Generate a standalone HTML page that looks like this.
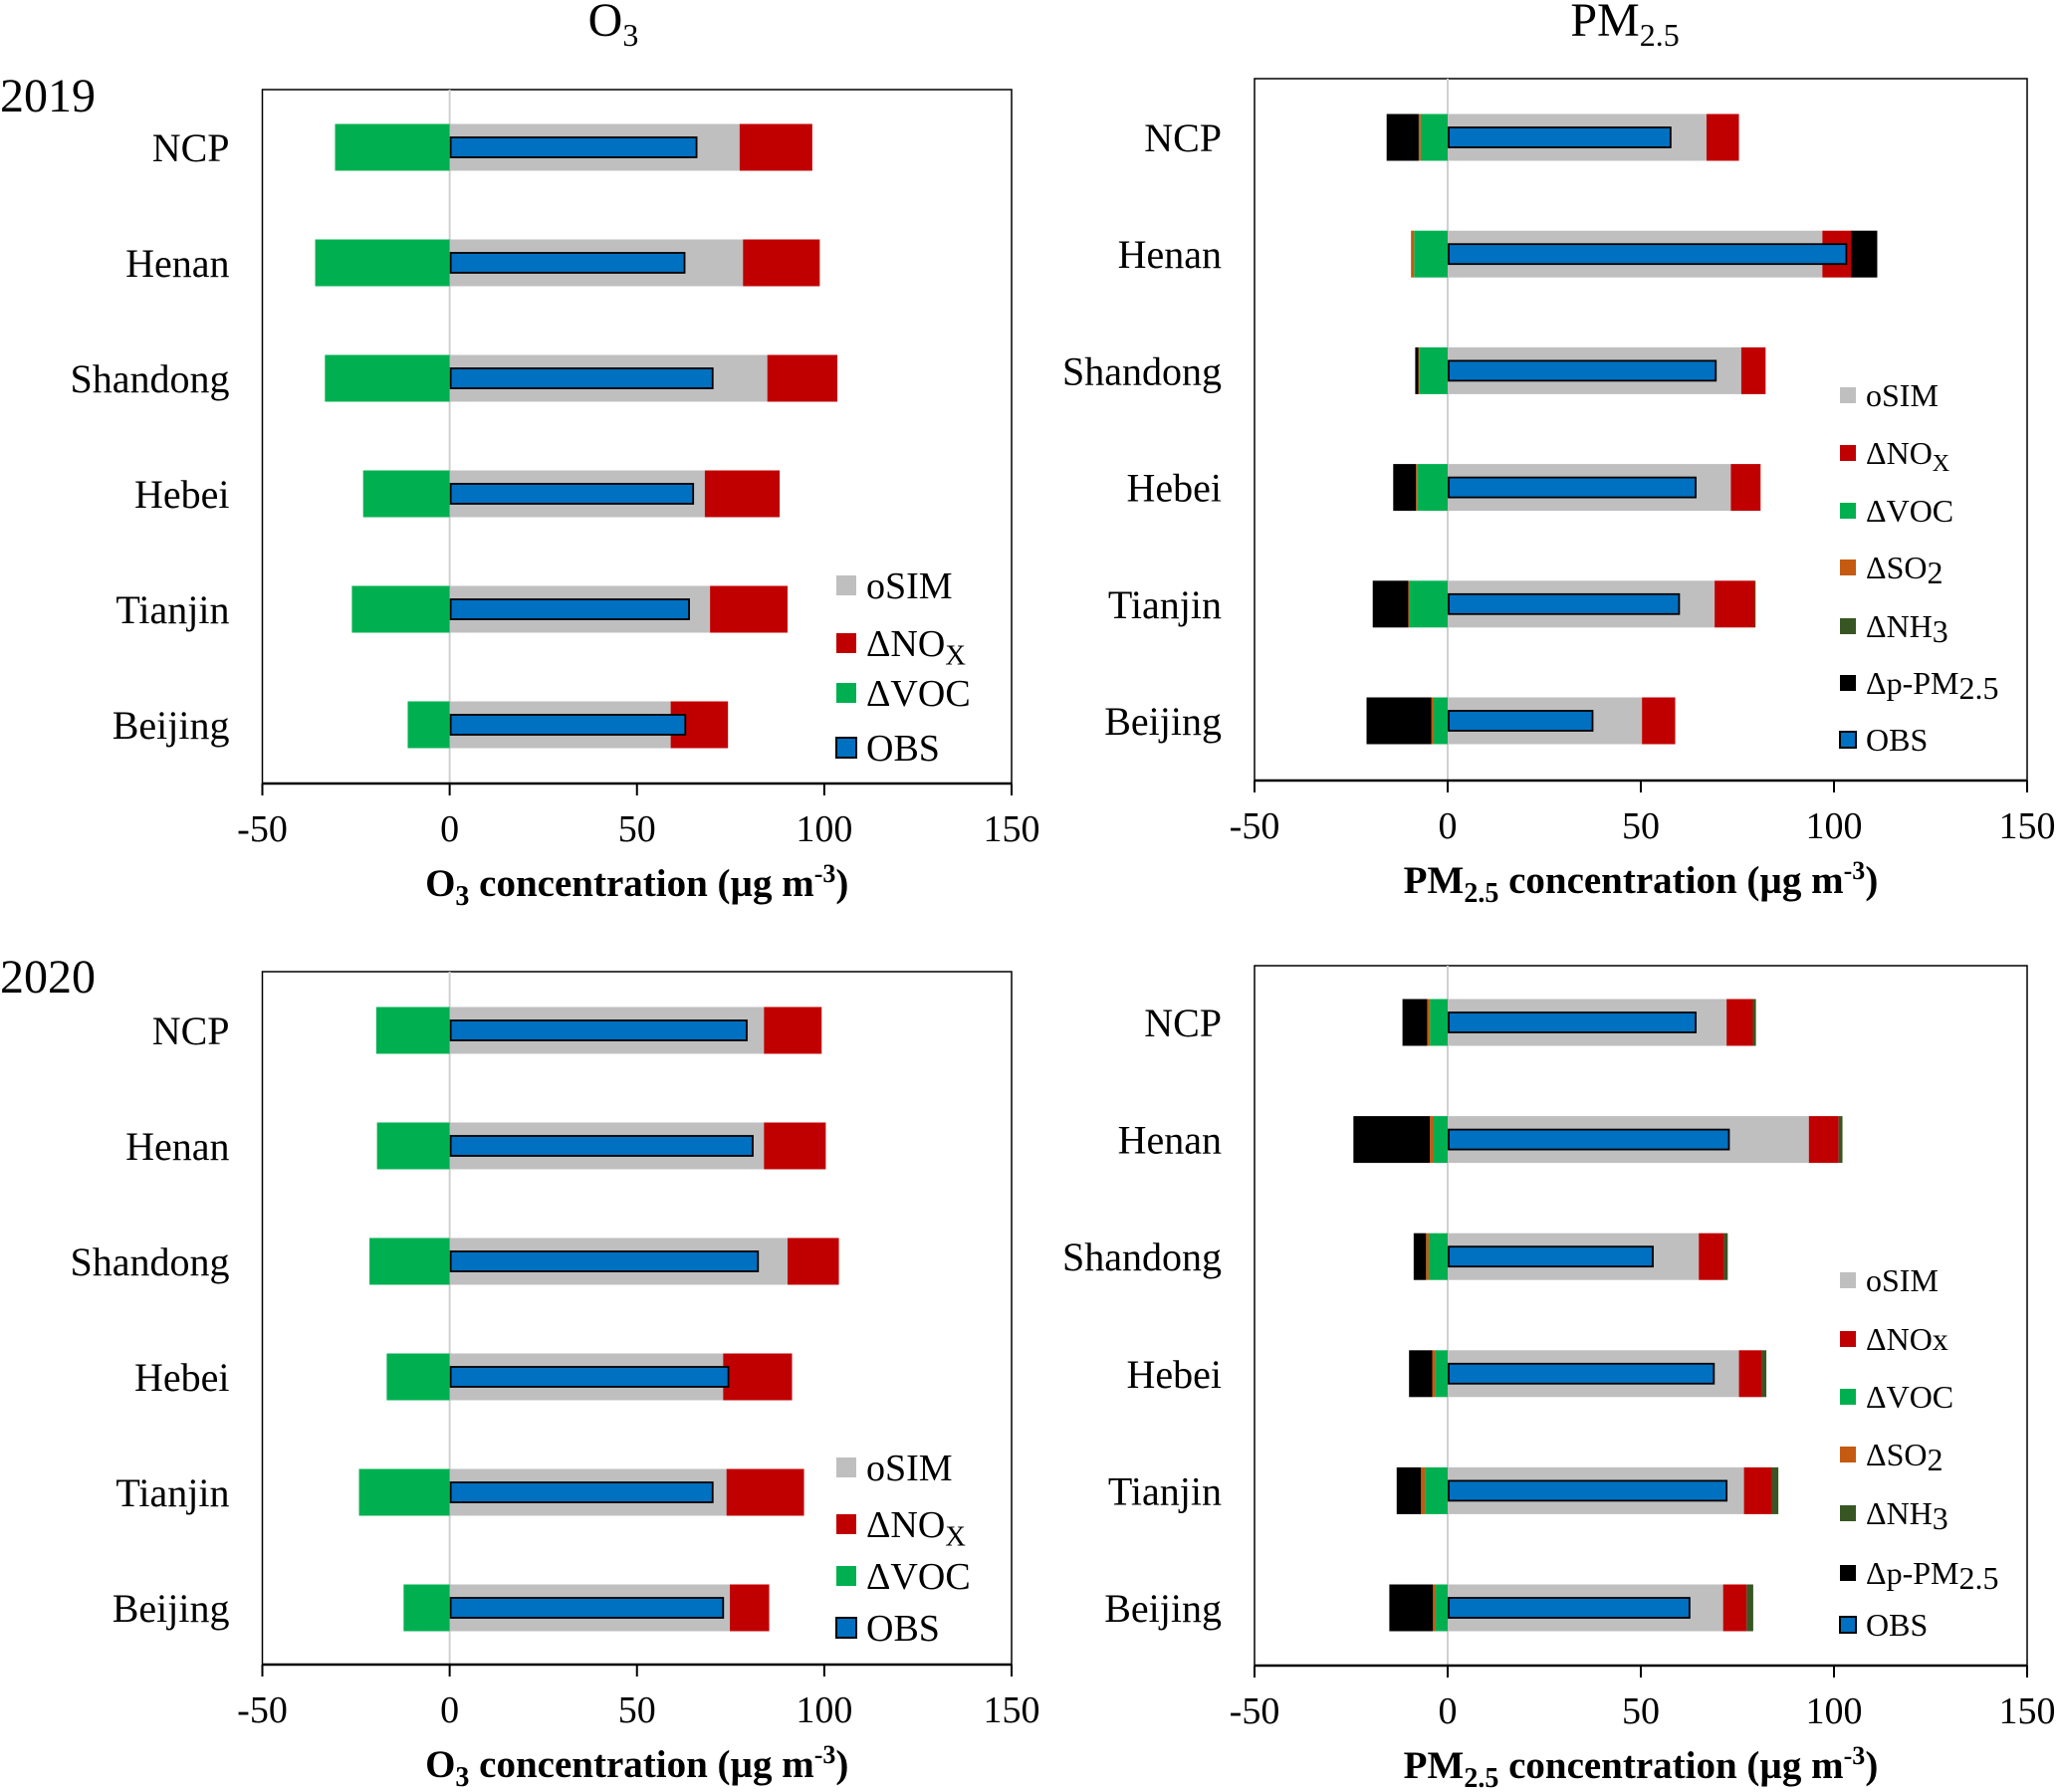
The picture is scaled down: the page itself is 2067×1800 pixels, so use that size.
<!DOCTYPE html>
<html><head><meta charset="utf-8"><style>
html,body{margin:0;padding:0;background:#fff;}
svg{display:block;font-family:"Liberation Serif",serif;}
</style></head><body>
<svg id="chart" width="2067" height="1800" viewBox="0 0 2067 1800" xmlns="http://www.w3.org/2000/svg">
<text x="616" y="36" font-size="48" text-anchor="middle">O<tspan font-size="32" dy="10">3</tspan></text>
<text x="1632" y="36" font-size="48" text-anchor="middle">PM<tspan font-size="32" dy="10">2.5</tspan></text>
<text x="0" y="112" font-size="48">2019</text>
<text x="0" y="997" font-size="48">2020</text>
<g id="panels"></g>
</svg>
<script>
const categories = ["NCP","Henan","Shandong","Hebei","Tianjin","Beijing"];
const xTicks = [-50,0,50,100,150];
// O3 2019
const o3_2019_osim = [77.4,78.3,84.8,68.1,69.5,59.0];
const o3_2019_nox  = [19.4,20.5,18.7,20.0,20.7,15.3];
const o3_2019_voc  = [-30.6,-35.9,-33.3,-23.1,-26.1,-11.2];
const o3_2019_obs  = [65.9,62.7,70.2,65.0,63.9,62.9];
// O3 2020
const o3_2020_osim = [83.9,83.9,90.2,73.0,73.9,74.8];
const o3_2020_nox  = [15.4,16.5,13.7,18.4,20.7,10.5];
const o3_2020_voc  = [-19.6,-19.4,-21.4,-16.8,-24.2,-12.3];
const o3_2020_obs  = [79.3,80.9,82.3,74.4,70.2,73.0];
// PM2.5 2019
const pm_2019_osim = [67.0,97.0,76.0,73.3,69.1,50.3];
const pm_2019_nox  = [8.4,7.4,6.3,7.7,10.4,8.6];
const pm_2019_voc  = [-7.0,-8.7,-7.3,-7.8,-9.8,-3.6];
const pm_2019_so2  = [-0.5,-0.8,-0.3,-0.4,-0.4,-0.6];
const pm_2019_nh3  = [0,0,0,0,0.2,0];
const pm_2019_ppm  = [-8.3,6.8,-0.8,-5.9,-9.2,-16.8];
const pm_2019_obs  = [57.7,103.2,69.4,64.2,59.9,37.5];
// PM2.5 2020
const pm_2020_osim = [72.2,93.5,65.0,75.4,76.7,71.3];
const pm_2020_nox  = [6.8,7.7,6.5,5.9,7.2,6.1];
const pm_2020_voc  = [-4.6,-3.6,-4.9,-3.2,-5.9,-3.1];
const pm_2020_so2  = [-0.7,-1.0,-0.7,-0.8,-1.0,-0.7];
const pm_2020_nh3  = [0.8,1.0,1.0,1.2,1.7,1.7];
const pm_2020_ppm  = [-6.4,-19.8,-3.2,-6.0,-6.3,-11.3];
const pm_2020_obs  = [64.2,72.8,53.1,68.9,72.2,62.6];

const NS="http://www.w3.org/2000/svg";
const root=document.getElementById('panels');
const COL={osim:"#bfbfbf",nox:"#c00000",voc:"#00b050",so2:"#c55a11",nh3:"#375623",ppm:"#000000",obs:"#0070c0"};
function mk(tag,attrs,parent){const e=document.createElementNS(NS,tag);for(const k in attrs)e.setAttribute(k,attrs[k]);(parent||root).appendChild(e);return e;}

const panels=[
 {id:"o3-2019",l:263.5,r:1016,t:90,b:787,y0:148,y5:728,title:"O3",series:{osim:o3_2019_osim,nox:o3_2019_nox,voc:o3_2019_voc},obs:o3_2019_obs,
  legend:{x:840,sw:20,fs:38,ys:[588,646,696,751],keys:["osim","nox","voc","obs"]}},
 {id:"o3-2020",l:263.5,r:1016,t:976,b:1672,y0:1035,y5:1615,title:"O3",series:{osim:o3_2020_osim,nox:o3_2020_nox,voc:o3_2020_voc},obs:o3_2020_obs,
  legend:{x:840,sw:20,fs:38,ys:[1474,1531,1583,1635],keys:["osim","nox","voc","obs"]}},
 {id:"pm-2019",l:1260,r:2036,t:79,b:784,y0:138,y5:724,title:"PM",series:{osim:pm_2019_osim,nox:pm_2019_nox,voc:pm_2019_voc,so2:pm_2019_so2,nh3:pm_2019_nh3,ppm:pm_2019_ppm},obs:pm_2019_obs,
  legend:{x:1848,sw:16,fs:32,ys:[397,455,513,570,629,686,743],keys:["osim","nox","voc","so2","nh3","ppm","obs"],noxSub:true}},
 {id:"pm-2020",l:1260,r:2036,t:970,b:1673,y0:1027,y5:1615,title:"PM",series:{osim:pm_2020_osim,nox:pm_2020_nox,voc:pm_2020_voc,so2:pm_2020_so2,nh3:pm_2020_nh3,ppm:pm_2020_ppm},obs:pm_2020_obs,
  legend:{x:1848,sw:16,fs:32,ys:[1286,1345,1403,1461,1520,1580,1632],keys:["osim","nox","voc","so2","nh3","ppm","obs"],noxSub:false}}
];

function legendLabel(t,key,p){
  const fs=p.legend.fs, sub=fs*0.75;
  if(key==="osim"){t.textContent="oSIM";return;}
  if(key==="obs"){t.textContent="OBS";return;}
  if(key==="voc"){t.textContent="ΔVOC";return;}
  if(key==="nox"){
    if(p.legend.noxSub===false){t.textContent="ΔNOx";return;}
    t.textContent="ΔNO";const s=mk('tspan',{"font-size":sub,dy:fs*0.22},t);s.textContent="X";return;}
  if(key==="so2"){t.textContent="ΔSO";const s=mk('tspan',{"font-size":fs,dy:fs*0.16},t);s.textContent="2";return;}
  if(key==="nh3"){t.textContent="ΔNH";const s=mk('tspan',{"font-size":fs,dy:fs*0.16},t);s.textContent="3";return;}
  if(key==="ppm"){t.textContent="Δp-PM";const s=mk('tspan',{"font-size":fs,dy:fs*0.16},t);s.textContent="2.5";return;}
}

panels.forEach(p=>{
  const g=mk('g',{});
  
  
  const xs=v=>p.l+(v-(-50))/200*(p.r-p.l);
  const ys=i=>p.y0+i*(p.y5-p.y0)/(categories.length-1);
  const bh=47, oh=20;
  const fr=mk('rect',{x:p.l,y:p.t,width:p.r-p.l,height:p.b-p.t,fill:"none",stroke:"#000","stroke-width":1.5},g);
  
  
  const zl=mk('line',{x1:xs(0),x2:xs(0),y1:p.t,y2:p.b,stroke:"#d0d0d0","stroke-width":2},g);
  
  
  const order=["osim","nox","voc","so2","nh3","ppm"];
  categories.forEach((c,i)=>{
    let pos=0,neg=0;const cy=ys(i);
    order.forEach(k=>{
      if(!p.series[k])return;const v=p.series[k][i];if(!v)return;
      let a,b;if(v>=0){a=pos;b=pos+v;pos=b;}else{a=neg;b=neg+v;neg=b;}
      const x1=xs(Math.min(a,b)),x2=xs(Math.max(a,b));
      const r=mk('rect',{x:x1,y:cy-bh/2,width:x2-x1,height:bh,fill:COL[k]},g);
      
      
    });
    const o=mk('rect',{x:xs(0)+1,y:cy-oh/2,width:xs(p.obs[i])-xs(0)-1,height:oh,fill:COL.obs,stroke:"#000","stroke-width":1.8},g);
    
    
    const t=mk('text',{x:p.l-33,y:cy+14,"font-size":40,"text-anchor":"end"},g);
    t.textContent=c;
    
    
  });
  const ax=mk('line',{x1:p.l,x2:p.r,y1:p.b,y2:p.b,stroke:"#000","stroke-width":2.5},g);
  
  
  xTicks.forEach(v=>{
    const tk=mk('line',{x1:xs(v),x2:xs(v),y1:p.b,y2:p.b+12,stroke:"#000","stroke-width":2},g);
    
    
    const tl=mk('text',{x:xs(v),y:p.b+58,"font-size":38,"text-anchor":"middle"},g);
    tl.textContent=v;
    
    
  });
  const at=mk('text',{x:(p.l+p.r)/2,y:p.b+113,"font-size":39,"font-weight":"bold","text-anchor":"middle"},g);
  
  
  if(p.title==="O3"){at.textContent="O";mk('tspan',{"font-size":28,dy:9},at).textContent="3";mk('tspan',{dy:-9},at).textContent=" concentration (µg m";}
  else{at.textContent="PM";mk('tspan',{"font-size":28,dy:9},at).textContent="2.5";mk('tspan',{dy:-9},at).textContent=" concentration (µg m";}
  mk('tspan',{"font-size":26,dy:-14},at).textContent="-3";
  mk('tspan',{dy:14},at).textContent=")";
  const L=p.legend;
  L.keys.forEach((k,j)=>{
    const cy=L.ys[j];
    const s=mk('rect',{x:L.x,y:cy-L.sw/2,width:L.sw,height:L.sw,fill:COL[k]},g);
    if(k==="obs"){s.setAttribute('stroke','#000');s.setAttribute('stroke-width',2);}
    
    
    const t=mk('text',{x:L.x+L.sw+10,y:cy+L.fs*0.34,"font-size":L.fs},g);
    legendLabel(t,k,p);
    
    
  });
});
</script>
</body></html>
